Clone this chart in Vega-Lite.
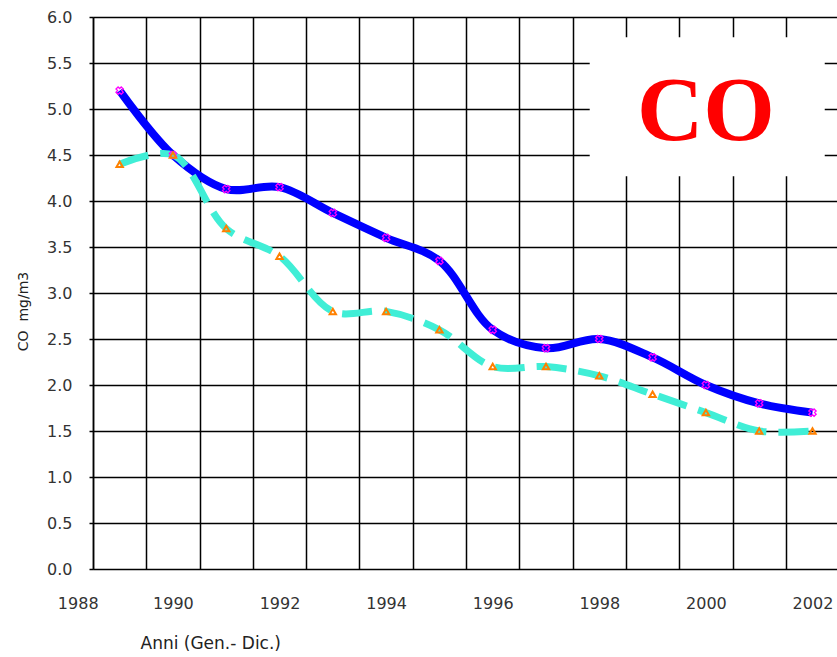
{
  "$schema": "https://vega.github.io/schema/vega-lite/v6.json",
  "width": 744,
  "height": 552,
  "autosize": {"type": "none"},
  "padding": {"left": 93, "top": 17, "right": 0, "bottom": 88},
  "background": "white",
  "config": {
    "view": {"stroke": null},
    "axis": {
      "labelFont": "DejaVu Sans",
      "labelFontSize": 16,
      "labelColor": "#333333",
      "titleFont": "DejaVu Sans",
      "titleFontWeight": "normal",
      "titleColor": "#222222",
      "gridColor": "#000000",
      "gridOpacity": 1,
      "gridWidth": 1.5,
      "domainColor": "#000000",
      "tickColor": "#000000"
    }
  },
  "datasets": {
    "co": [
      {"anno": 1989, "s1": 5.2, "s2": 4.4},
      {"anno": 1990, "s1": 4.5, "s2": 4.5},
      {"anno": 1991, "s1": 4.13, "s2": 3.7},
      {"anno": 1992, "s1": 4.15, "s2": 3.4},
      {"anno": 1993, "s1": 3.87, "s2": 2.8},
      {"anno": 1994, "s1": 3.6, "s2": 2.8},
      {"anno": 1995, "s1": 3.35, "s2": 2.6},
      {"anno": 1996, "s1": 2.6, "s2": 2.2},
      {"anno": 1997, "s1": 2.4, "s2": 2.2},
      {"anno": 1998, "s1": 2.5, "s2": 2.1},
      {"anno": 1999, "s1": 2.3, "s2": 1.9},
      {"anno": 2000, "s1": 2.0, "s2": 1.7},
      {"anno": 2001, "s1": 1.8, "s2": 1.5},
      {"anno": 2002, "s1": 1.7, "s2": 1.5}
    ]
  },
  "data": {"name": "co"},
  "layer": [
    {
      "mark": {"type": "line", "interpolate": "catmull-rom", "color": "#0000FF", "strokeWidth": 8},
      "encoding": {
        "x": {
          "field": "anno", "type": "quantitative",
          "scale": {"domain": [1988.5, 2002.46], "nice": false, "zero": false},
          "axis": {
            "orient": "bottom",
            "values": [1988.5, 1989.5, 1990.5, 1991.5, 1992.5, 1993.5, 1994.5, 1995.5, 1996.5, 1997.5, 1998.5, 1999.5, 2000.5, 2001.5],
            "grid": true, "labels": false, "ticks": false, "domain": false, "title": null
          }
        },
        "y": {
          "field": "s1", "type": "quantitative",
          "scale": {"domain": [0, 6], "nice": false},
          "axis": {
            "values": [0, 0.5, 1, 1.5, 2, 2.5, 3, 3.5, 4, 4.5, 5, 5.5, 6],
            "format": ".1f",
            "grid": true,
            "tickSize": 4,
            "tickWidth": 1.5,
            "labelPadding": 17,
            "domainWidth": 1.5,
            "title": "CO\u00a0\u00a0mg/m3",
            "titleFontSize": 14,
            "titlePadding": 16,
            "titleY": 294
          }
        }
      }
    },
    {
      "mark": {"type": "line", "interpolate": "catmull-rom", "color": "#40EED6", "strokeWidth": 7, "strokeDash": [30, 12]},
      "encoding": {
        "x": {"field": "anno", "type": "quantitative", "axis": null},
        "y": {"field": "s2", "type": "quantitative"}
      }
    },
    {
      "mark": {"type": "point", "shape": "cross", "angle": 45, "filled": false, "color": "#FF00FF", "strokeWidth": 1.3, "size": 55, "opacity": 1},
      "encoding": {
        "x": {"field": "anno", "type": "quantitative", "axis": null},
        "y": {"field": "s1", "type": "quantitative"}
      }
    },
    {
      "mark": {"type": "point", "shape": "triangle-up", "filled": false, "color": "#FF8000", "strokeWidth": 2, "size": 40, "opacity": 1},
      "encoding": {
        "x": {
          "field": "anno", "type": "quantitative",
          "axis": {
            "orient": "bottom",
            "values": [1988.52, 1990, 1992, 1994, 1996, 1998, 2000, 2002],
            "labelExpr": "datum.value < 1989 ? '1988' : format(datum.value, 'd')",
            "labelAlign": {"condition": {"test": "datum.value < 1989", "value": "right"}, "value": "center"},
            "labelOffset": {"condition": {"test": "datum.value < 1989", "value": 4}, "value": 0},
            "grid": false, "ticks": false, "tickSize": 0, "domain": false,
            "labelPadding": 26,
            "title": "Anni (Gen.- Dic.)",
            "titleFontSize": 17,
            "titleX": 47,
            "titleY": 74,
            "titleAlign": "left",
            "titleBaseline": "middle"
          }
        },
        "y": {"field": "s2", "type": "quantitative"}
      }
    },
    {
      "data": {"values": [{"box": "CO"}]},
      "mark": {"type": "rect", "fill": "white"},
      "encoding": {
        "x": {"datum": 1997.82, "type": "quantitative", "axis": null},
        "x2": {"datum": 2002.23},
        "y": {"datum": 5.78, "type": "quantitative"},
        "y2": {"datum": 4.27}
      }
    },
    {
      "data": {"values": [{"label": "CO"}]},
      "mark": {"type": "text", "font": "Liberation Serif", "fontWeight": "bold", "fontSize": 92, "color": "#FF0000", "baseline": "alphabetic", "align": "center"},
      "encoding": {
        "text": {"field": "label"},
        "x": {"datum": 2000.0, "type": "quantitative", "axis": null},
        "y": {"datum": 4.66, "type": "quantitative"}
      }
    }
  ],
  "resolve": {"axis": {"x": "independent"}}
}
